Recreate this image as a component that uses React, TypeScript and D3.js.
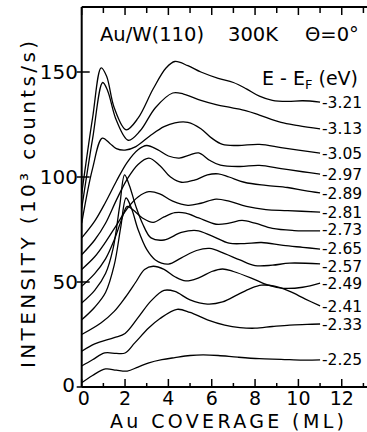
import React from "react";
import * as d3 from "d3";

const W = 367;
const H = 432;

const xTicksMajor = [0, 2, 4, 6, 8, 10, 12];
const xTicksMinor = [1, 3, 5, 7, 9, 11, 13];
const yTicks = [0, 50, 100, 150];

const energyLabels = ["-3.21", "-3.13", "-3.05", "-2.97", "-2.89", "-2.81", "-2.73", "-2.65", "-2.57", "-2.49", "-2.41", "-2.33", "-2.25"];

const e321 = [[0, 92], [0.5, 128], [0.9, 152], [1.15, 148], [1.5, 133], [2.05, 122.5], [2.6, 128], [3.3, 142], [3.9, 152], [4.3, 155], [4.9, 153], [5.5, 150], [6.3, 147], [7.0, 145], [7.6, 142], [8.2, 138.5], [8.8, 136.5], [9.5, 136], [10.2, 136.3], [11, 135.7]];
const e313 = [[0, 85], [0.5, 118], [0.97, 145], [1.2, 141], [1.6, 127], [2.15, 117.5], [2.7, 122], [3.4, 133], [4.2, 140], [4.7, 139.5], [5.5, 136.5], [6.2, 134.5], [6.9, 133], [7.6, 131.5], [8.2, 129.5], [9.2, 126], [10, 124.5], [11, 122.9]];
const e305 = [[0, 78], [0.5, 104], [0.95, 118.5], [1.3, 116], [1.6, 113.5], [2.0, 112.8], [2.5, 114.5], [3.2, 120], [3.8, 124], [4.3, 125.8], [4.9, 126], [5.5, 123], [6.0, 118.5], [6.5, 115.5], [7.2, 115], [8.2, 115.5], [9.2, 114], [10, 112.8], [11, 111.4]];
const e297 = [[0, 71], [0.6, 79], [1.1, 88], [1.6, 98], [2.1, 107], [2.6, 113], [3.0, 115], [3.5, 113], [4.0, 110], [4.5, 109], [5.0, 110.5], [5.4, 111.5], [5.9, 108], [6.4, 105.6], [7.3, 105], [8.2, 105.5], [9.2, 104], [10.2, 102.5], [11, 101.4]];
const e289 = [[0, 63], [0.6, 70], [1.1, 78], [1.6, 89], [2.1, 99], [2.6, 106], [3.1, 109], [3.6, 105.5], [4.1, 100], [4.6, 97.5], [5.2, 98.5], [5.8, 101], [6.3, 101.5], [6.8, 100], [7.5, 97.5], [8.5, 96], [9.5, 95], [10.3, 93.5], [11, 92.4]];
const e281 = [[0, 56], [0.6, 62], [1.1, 69], [1.6, 77], [2.1, 85], [2.6, 90.5], [3.1, 93], [3.6, 92], [4.2, 88.5], [4.9, 86.5], [5.5, 87.5], [6.2, 89.5], [6.8, 88.5], [7.6, 86], [8.5, 84.5], [9.5, 84], [11, 83.3]];
const e273 = [[0, 48], [0.6, 54], [1.1, 61], [1.5, 70], [1.85, 80], [2.1, 86], [2.35, 84.5], [2.8, 80.5], [3.3, 78.4], [3.8, 81], [4.3, 83], [4.8, 82.8], [5.4, 80.5], [6.2, 77.5], [6.8, 78], [7.4, 79.3], [8.0, 78], [8.8, 75.5], [9.8, 74.5], [11, 74.3]];
const e265 = [[0, 40], [0.6, 46], [1.1, 54], [1.45, 66], [1.75, 86], [1.98, 101], [2.2, 96], [2.5, 86], [2.8, 78], [3.2, 71], [3.8, 70], [4.6, 73.6], [5.3, 74.5], [6.0, 72], [6.8, 68.5], [7.5, 68.3], [8.3, 68.8], [9.3, 67.4], [10.2, 66.5], [11, 65.7]];
const e257 = [[0, 32], [0.6, 38], [1.1, 45], [1.5, 58], [1.8, 76], [2.05, 90], [2.3, 85], [2.6, 75], [3.0, 65.5], [3.4, 60.5], [4.0, 58.5], [4.6, 61.5], [5.3, 65], [5.9, 66], [6.6, 63.5], [7.3, 60.5], [8.0, 57.8], [8.8, 58], [9.6, 59], [11, 58.6]];
const e249 = [[0, 25], [0.9, 30.6], [1.5, 36], [2.0, 42.5], [2.5, 50], [2.9, 56], [3.3, 57.5], [3.8, 56], [4.3, 52.5], [4.8, 50.5], [5.4, 52], [6.0, 55], [6.5, 56.2], [7.0, 55], [7.8, 52], [8.6, 48.5], [9.3, 47], [10.2, 47.5], [11, 49.5]];
const e241 = [[0, 17], [0.6, 20.5], [1.5, 23.5], [2.0, 25.5], [2.6, 33], [3.2, 41], [3.8, 46], [4.3, 45.5], [5.0, 41.5], [5.8, 39.5], [6.5, 40.5], [7.2, 44], [7.8, 47], [8.3, 48.5], [8.9, 48], [9.6, 45.5], [10.3, 42], [11, 38.6]];
const e233 = [[0, 10], [0.5, 13], [1.06, 16.2], [1.6, 16], [2.0, 16.2], [2.45, 21], [3.1, 28.2], [3.6, 32.5], [4.4, 37], [5.0, 35.5], [5.8, 32], [6.6, 29.5], [7.3, 28.3], [8.0, 28], [8.8, 28.8], [9.6, 29.5], [10.4, 29.8], [11, 30]];
const e225 = [[0, 2], [0.5, 5.5], [1.1, 8.6], [1.6, 8], [2.1, 7.6], [2.6, 9.5], [3.1, 11.5], [3.7, 13], [4.3, 14], [5.0, 15], [5.6, 15.3], [6.3, 15], [7.2, 14.2], [8.2, 13.5], [9.2, 13.2], [10.2, 12.8], [11, 12.9]];

const curves = [e321, e313, e305, e297, e289, e281, e273, e265, e257, e249, e241, e233, e225];

// small vertical nudges (px) so crowded end labels do not collide
const labelNudge = [0, 0, 0, 0, 0, 0, -1.5, -0.5, 2, 0, 0, 0, 0];

const FONT = "'DejaVu Sans', sans-serif";

export default function App() {
  const x = d3.scaleLinear().domain([0, 13]).range([81.7, 81.7 + 13 * 21.67]);
  const y = d3.scaleLinear().domain([0, 150]).range([387, 72]);
  const top = 7;
  const left = x(0);
  const bottom = y(0);

  const line = d3
    .line<number[]>()
    .x((d) => x(d[0]))
    .y((d) => y(d[1]))
    .curve(d3.curveCatmullRom.alpha(0.5));

  return (
    <svg
      width={W}
      height={H}
      viewBox={`0 0 ${W} ${H}`}
      style={{ position: "absolute", left: 0, top: 0, background: "#fff" }}
      fontFamily={FONT}
    >
      <rect x={0} y={0} width={W} height={H} fill="#fff" />
      {/* frame */}
      <line x1={left} y1={top} x2={W} y2={top} stroke="#000" strokeWidth={2} />
      <line x1={left} y1={top} x2={left} y2={bottom} stroke="#000" strokeWidth={2} />
      <line x1={left} y1={bottom} x2={W} y2={bottom} stroke="#000" strokeWidth={2} />

      {/* x ticks bottom & top */}
      {xTicksMajor.map((t) => (
        <g key={"xM" + t}>
          <line x1={x(t)} x2={x(t)} y1={bottom} y2={bottom - 8} stroke="#000" strokeWidth={1.5} />
          <line x1={x(t)} x2={x(t)} y1={top} y2={top + 8} stroke="#000" strokeWidth={1.5} />
          <text x={x(t) + (t === 0 ? 2 : 0)} y={405} fontSize={19} textAnchor="middle">
            {t}
          </text>
        </g>
      ))}
      {xTicksMinor.map((t) => (
        <g key={"xm" + t}>
          <line x1={x(t)} x2={x(t)} y1={bottom} y2={bottom - 4} stroke="#000" strokeWidth={1.5} />
          <line x1={x(t)} x2={x(t)} y1={top} y2={top + 6} stroke="#000" strokeWidth={1.5} />
        </g>
      ))}

      {/* y ticks */}
      {yTicks.map((t) => (
        <g key={"y" + t}>
          <line x1={left - 5} x2={left + 8} y1={y(t)} y2={y(t)} stroke="#000" strokeWidth={1.5} />
          <text x={t === 0 ? 75 : 78} y={y(t) - (t === 0 ? 2 : 0)} dy="0.36em" fontSize={20} textAnchor="end">
            {t}
          </text>
        </g>
      ))}

      {/* curves */}
      {curves.map((c, i) => (
        <path key={"c" + i} d={line(c) || ""} fill="none" stroke="#000" strokeWidth={1.3} />
      ))}

      {/* energy labels */}
      {curves.map((c, i) => (
        <text key={"l" + i} x={322} y={y(c[c.length - 1][1]) + labelNudge[i]} dy="0.36em" fontSize={15.5}>
          {energyLabels[i]}
        </text>
      ))}

      {/* title */}
      <text x={100} y={41} fontSize={19.5}>Au/W(110)</text>
      <text x={228} y={41} fontSize={19.5}>300K</text>
      <text x={305} y={41} fontSize={19.5}>Θ=0°</text>

      {/* legend header */}
      <text x={262} y={85} fontSize={19}>
        E - E
        <tspan fontSize={13} dy={4}>F</tspan>
        <tspan dy={-4}> (eV)</tspan>
      </text>

      {/* axis titles */}
      <text x={110} y={428} fontSize={19} textLength={234} lengthAdjust="spacing">
        Au COVERAGE (ML)
      </text>
      <text
        transform={`translate(35, 368) rotate(-90)`}
        fontSize={20}
        textLength={327}
        lengthAdjust="spacing"
      >
        INTENSITY (10³ counts/s)
      </text>
    </svg>
  );
}
